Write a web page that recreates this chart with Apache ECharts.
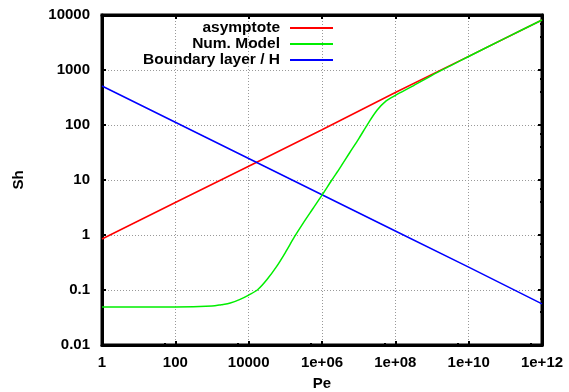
<!DOCTYPE html>
<html>
<head>
<meta charset="utf-8">
<script src="https://cdn.jsdelivr.net/npm/echarts@6/dist/echarts.min.js"></script>
<style>html,body{margin:0;padding:0;background:#fff;}#c{width:569px;height:392px;}</style>
</head>
<body>
<div id="c"></div>
<script>
// Data
const seriesNames = ['asymptote', 'Num. Model', 'Boundary layer / H'];
const asymPe = [1, 1e2, 1e4, 1e6, 1e8, 1e10, 1e12];
const asymSh = [0.845, 3.9, 17.8, 82, 390, 1770, 8100];
const modelPe = [1, 10, 100, 1e3, 1.78e3, 3.16e3, 5.62e3, 1e4, 1.78e4, 3.16e4, 5.62e4, 1e5, 1.78e5, 3.16e5, 5.62e5, 1e6, 1.78e6, 3.16e6, 5.62e6, 1e7, 1.78e7, 3.16e7, 5.62e7, 1e8, 3.16e8, 1e9, 3.16e9, 1e10, 1e11, 1e12];
const modelSh = [0.049, 0.049, 0.049, 0.051, 0.054, 0.058, 0.067, 0.081, 0.102, 0.155, 0.26, 0.48, 0.93, 1.7, 3.0, 5.3, 9.6, 17, 31, 56, 105, 185, 275, 345, 520, 800, 1190, 1760, 3800, 8100];
const blPe = [1, 1e2, 1e4, 1e6, 1e8, 1e10, 1e12];
const blSh = [512, 112, 24.6, 5.4, 1.18, 0.26, 0.056];
const xTickLabels = ['1', '100', '10000', '1e+06', '1e+08', '1e+10', '1e+12'];
const yTickLabels = ['0.01', '0.1', '1', '10', '100', '1000', '10000'];
const colors = ['#ff0000', '#00ee00', '#0000ff'];

const pairs = (xs, ys) => xs.map((x, i) => [x, ys[i]]);
const FONT = 'Liberation Sans, Arial, sans-serif';
const lbl = {fontFamily: FONT, fontWeight: 'bold', fontSize: 15, color: '#000'};
const xFmt = v => { const e = Math.round(Math.log10(v)); return e % 2 === 0 ? xTickLabels[e / 2] : ''; };
const yFmt = v => { const e = Math.round(Math.log10(v)); return yTickLabels[e + 2] || ''; };
const split = {show: true, lineStyle: {color: '#999', type: [1, 2], width: 1}};

const chart = echarts.init(document.getElementById('c'), null, {renderer: 'canvas'});
chart.setOption({
  animation: false,
  backgroundColor: '#fff',
  grid: {left: 102, right: 27, top: 15, bottom: 47, show: true, borderColor: '#000', borderWidth: 3, backgroundColor: 'transparent', containLabel: false, outerBoundsMode: 'none'},
  legend: {
    data: seriesNames, orient: 'vertical', right: 236, top: 20, align: 'right', padding: 0,
    itemWidth: 43, itemHeight: 2, itemGap: 0, icon: 'rect',
    textStyle: Object.assign({}, lbl, {fontSize: 15.5, lineHeight: 15.5, padding: [0, 5, 0, 0]})
  },
  xAxis: [{
    type: 'log', logBase: 10, min: 1, max: 1e12, interval: 2,
    name: 'Pe', nameLocation: 'middle', nameGap: 31, nameTextStyle: lbl,
    axisLine: {show: true, lineStyle: {color: '#000', width: 3}},
    axisTick: {show: true, inside: true, length: 4, lineStyle: {color: '#000', width: 2}},
    minorTick: {show: true, splitNumber: 2, length: 2, lineStyle: {color: '#000', width: 2}},
    axisLabel: Object.assign({}, lbl, {formatter: xFmt, margin: 10, showMinLabel: true, showMaxLabel: true}),
    splitLine: split
  }, {
    type: 'log', logBase: 10, min: 1, max: 1e12, interval: 2, position: 'top',
    axisLine: {show: true, lineStyle: {color: '#000', width: 3}},
    axisTick: {show: true, inside: true, length: 4, lineStyle: {color: '#000', width: 2}},
    minorTick: {show: true, splitNumber: 2, length: 2, lineStyle: {color: '#000', width: 2}},
    axisLabel: {show: false}, splitLine: {show: false}
  }],
  yAxis: [{
    type: 'log', logBase: 10, min: 0.01, max: 10000, interval: 1,
    name: 'Sh', nameLocation: 'middle', nameGap: 76, nameRotate: 90, nameTextStyle: lbl,
    axisLine: {show: true, lineStyle: {color: '#000', width: 3}},
    axisTick: {show: true, inside: true, length: 4, lineStyle: {color: '#000', width: 2}},
    minorTick: {show: true, splitNumber: 3, length: 2, lineStyle: {color: '#000', width: 2}},
    axisLabel: Object.assign({}, lbl, {formatter: yFmt, margin: 12}),
    splitLine: split
  }, {
    type: 'log', logBase: 10, min: 0.01, max: 10000, interval: 1, position: 'right',
    axisLine: {show: true, lineStyle: {color: '#000', width: 3}},
    axisTick: {show: true, inside: true, length: 4, lineStyle: {color: '#000', width: 2}},
    minorTick: {show: true, splitNumber: 3, length: 2, lineStyle: {color: '#000', width: 2}},
    axisLabel: {show: false}, splitLine: {show: false}
  }],
  series: [
    {name: seriesNames[0], type: 'line', data: pairs(asymPe, asymSh), showSymbol: false, lineStyle: {color: colors[0], width: 1.5}, itemStyle: {color: colors[0]}, z: 3},
    {name: seriesNames[1], type: 'line', data: pairs(modelPe, modelSh), smooth: 0.3, showSymbol: false, lineStyle: {color: colors[1], width: 1.5}, itemStyle: {color: colors[1]}, z: 4},
    {name: seriesNames[2], type: 'line', data: pairs(blPe, blSh), showSymbol: false, lineStyle: {color: colors[2], width: 1.5}, itemStyle: {color: colors[2]}, z: 3}
  ]
});
</script>
</body>
</html>
